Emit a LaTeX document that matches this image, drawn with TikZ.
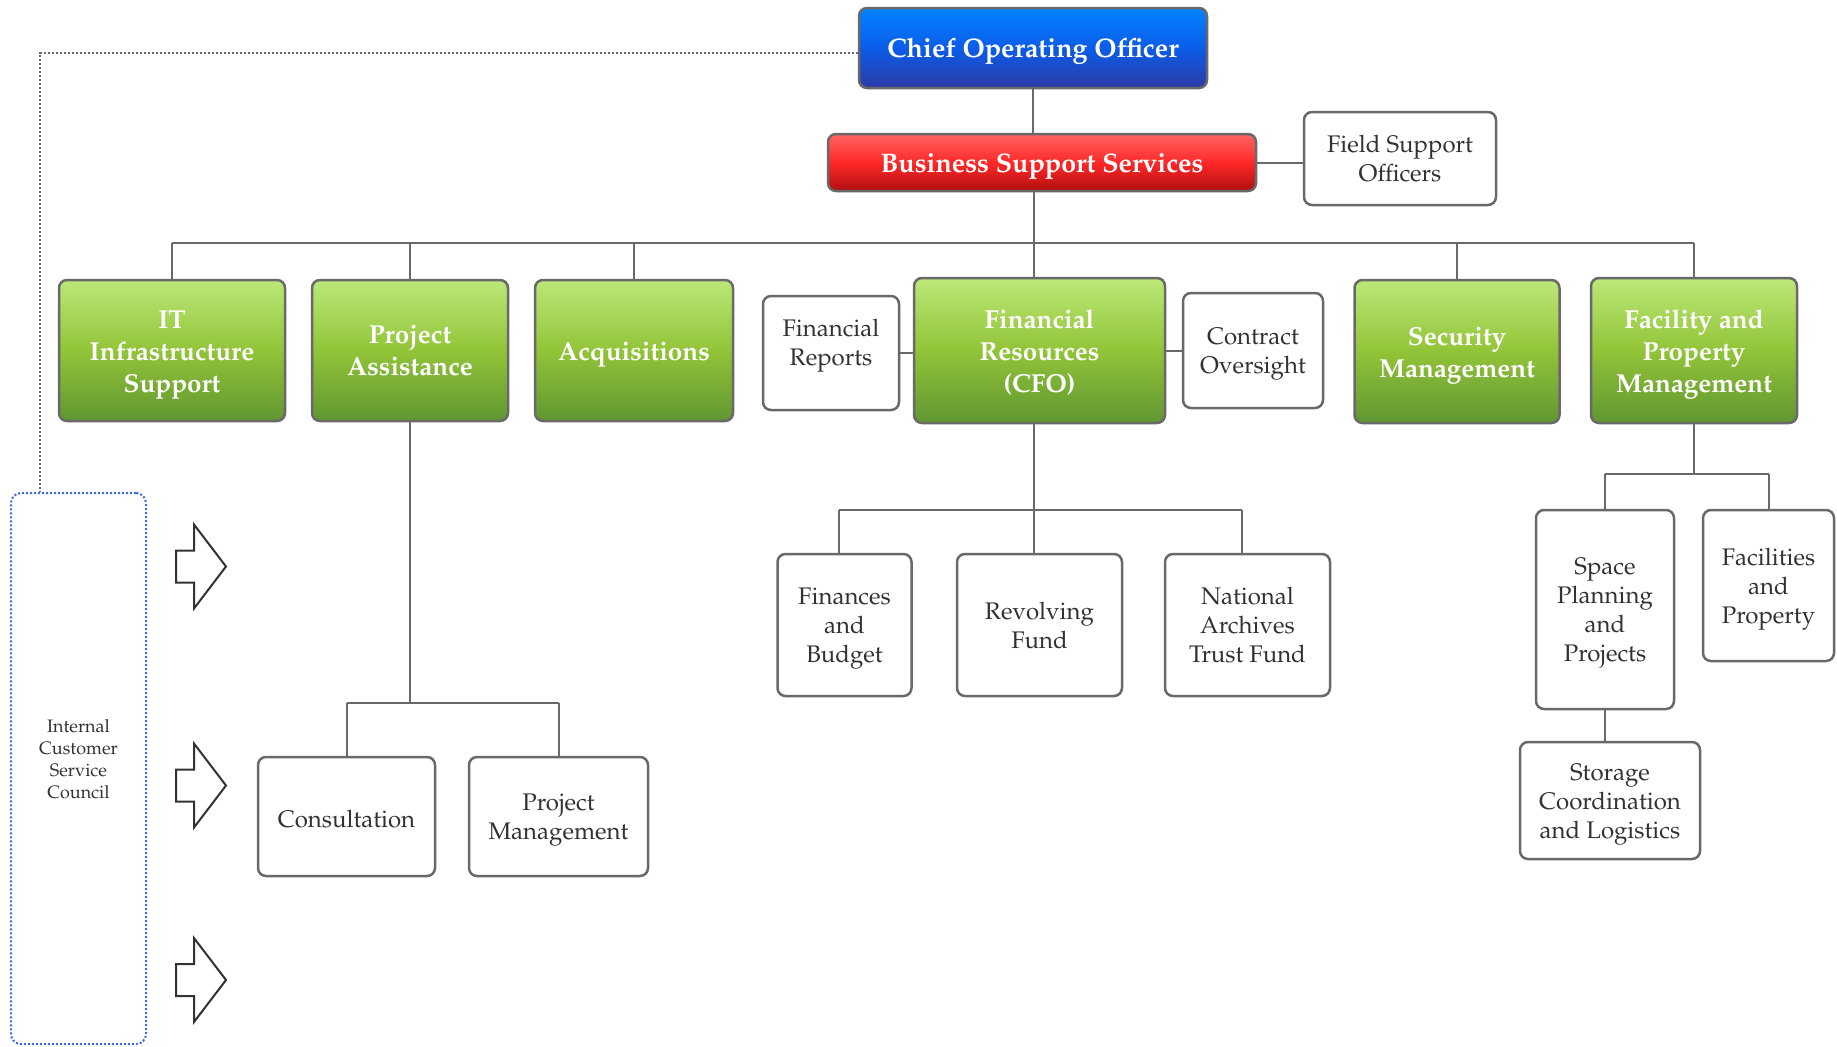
\documentclass[tikz,border=0pt]{standalone}
\usepackage[T1]{fontenc}
\usepackage{mathpazo}
\usepackage{tikz}
\definecolor{greentop}{RGB}{188,232,120}
\definecolor{greenmid}{RGB}{146,196,56}
\definecolor{greenbot}{RGB}{96,150,50}
\definecolor{bluetop}{RGB}{0,132,255}
\definecolor{bluemid}{RGB}{12,92,232}
\definecolor{bluebot}{RGB}{44,58,165}
\definecolor{redtop}{RGB}{255,100,100}
\definecolor{redmid}{RGB}{255,40,40}
\definecolor{redbot}{RGB}{175,15,15}
\definecolor{boxgray}{RGB}{105,105,105}
\definecolor{textgray}{RGB}{50,50,50}
\definecolor{councilblue}{RGB}{55,105,240}
\newcommand{\boxtopstrut}{\rule{0pt}{1em}}
\tikzstyle{basebox} = [draw=boxgray, line width=1.25pt, rectangle,
    rounded corners=4pt, align=center, inner sep=2pt]
\tikzstyle{greenbox} = [basebox, top color=greentop, bottom color=greenbot,
    middle color=greenmid, text=white, font=\fontsize{13}{16}\selectfont\bfseries]
\tikzstyle{cooBox} = [basebox, top color=bluetop, bottom color=bluebot,
    middle color=bluemid, text=white, font=\fontsize{13.4}{17}\selectfont\bfseries]
\tikzstyle{bssBox} = [basebox, top color=redtop, bottom color=redbot,
    middle color=redmid, text=white, font=\fontsize{13.4}{17}\selectfont\bfseries]
\tikzstyle{plainbox} = [basebox, fill=white, text=textgray,
    font=\fontsize{12}{14.5}\selectfont]
\tikzstyle{orgline} = [draw=boxgray, line width=1pt]
\tikzstyle{councilbox} = [draw=councilblue, line width=1pt, dash pattern=on 1pt off 1pt,
    rectangle, rounded corners=5pt, align=center, text=textgray,
    font=\fontsize{9}{11}\selectfont, execute at end node={\rule[-9.4pt]{0pt}{0pt}}]
\tikzstyle{blockarrow} = [draw=textgray, line width=1pt, fill=white, line join=miter]

\begin{document}
\begin{tikzpicture}[x=0.5pt, y=-0.5pt]
                \useasboundingbox (0,0) rectangle (1837,1046);
                \node[cooBox, minimum width=174pt, minimum height=40pt] (coo) at (1033,48) {\boxtopstrut Chief Operating Officer};
                \node[bssBox, minimum width=214pt, minimum height=28.5pt] (bss) at (1042,162.5) {\boxtopstrut Business Support Services};
                \node[plainbox, minimum width=96pt, minimum height=46.5pt] (fso) at (1400,158.5) {Field Support\\Officers};

                \node[greenbox, minimum width=113pt, minimum height=70.5pt] (it) at (172,350.5) {\boxtopstrut IT\\Infrastructure\\Support};
                \node[greenbox, minimum width=98pt, minimum height=70.5pt] (pa) at (410,350.5) {Project\\Assistance};
                \node[greenbox, minimum width=99pt, minimum height=70.5pt] (acq) at (634,350.5) {\boxtopstrut Acquisitions};
                \node[plainbox, minimum width=68pt, minimum height=57pt,
                    execute at end node={\rule[-0.85em]{0pt}{0pt}}] (fr) at (831,353) {Financial\\Reports};
                \node[greenbox, minimum width=125.5pt, minimum height=72.5pt] (cfo) at (1039.5,350.5) {\rule{0pt}{0.9em}Financial\\Resources\\(CFO)};
                \node[plainbox, minimum width=70pt, minimum height=57.5pt] (co) at (1253,350.5) {\boxtopstrut Contract\\Oversight};
                \node[greenbox, minimum width=102.5pt, minimum height=71.5pt] (sm) at (1457,351.5) {\boxtopstrut Security\\Management};
                \node[greenbox, minimum width=103pt, minimum height=72.5pt] (fpm) at (1694,350.5) {\boxtopstrut Facility and\\Property\\Management};

                \node[plainbox, minimum width=67pt, minimum height=71pt] (fb) at (844.5,625) {\boxtopstrut Finances\\and\\Budget};
                \node[plainbox, minimum width=82.5pt, minimum height=71pt] (rf) at (1039.5,625) {Revolving\\Fund};
                \node[plainbox, minimum width=82.5pt, minimum height=71pt] (na) at (1247.5,625) {National\\Archives\\Trust Fund};

                \node[plainbox, minimum width=88.5pt, minimum height=59.5pt] (cons) at (346.5,816.5) {\rule{0pt}{0.9em}Consultation};
                \node[plainbox, minimum width=89.5pt, minimum height=59.5pt] (pm) at (558.5,816.5) {\boxtopstrut Project\\Management};

                \node[plainbox, minimum width=69pt, minimum height=99.5pt] (spp) at (1605,609.5) {\boxtopstrut Space\\Planning\\and\\Projects};
                \node[plainbox, minimum width=65.5pt, minimum height=75.5pt] (fap) at (1768.5,585.5) {\boxtopstrut Facilities\\and\\Property};
                \node[plainbox, minimum width=90pt, minimum height=58.5pt] (scl) at (1610,800.5) {\boxtopstrut Storage\\Coordination\\and Logistics};

                \node[councilbox, minimum width=67.5pt, minimum height=275.5pt] (icsc) at (78.5,768.5) {Internal\\Customer\\Service\\Council};

                \coordinate (bus) at (1034,243);
                \coordinate (cfobus) at (1034,510);
                \coordinate (pabus) at (410,703);
                \coordinate (fpmbus) at (1692,474);
                \coordinate (cbend) at (40,53);

                \draw[orgline] (coo.south) -- (coo.south |- bss.north);
                \draw[orgline] (bss.east) -- (bss.east -| fso.west);
                \draw[orgline] (bus |- bss.south) -- (bus);
                \draw[orgline] (it.north |- bus) -- (fpm.north |- bus);
                \foreach \n in {it,pa,acq,sm,fpm}
                    \draw[orgline] (\n.north |- bus) -- (\n.north);
                \draw[orgline] (bus) -- (bus |- cfo.north);
                \draw[orgline] (fr.east) -- (fr.east -| cfo.west);
                \draw[orgline] (co.west) -- (co.west -| cfo.east);

                \draw[orgline] (cfobus |- cfo.south) -- (cfobus);
                \draw[orgline] ([xshift=-3pt]fb.north |- cfobus) -- ([xshift=-2.75pt]na.north |- cfobus);
                \foreach \n in {fb,rf,na}
                    \draw[orgline] ([xshift=-2.75pt]\n.north |- cfobus) -- ([xshift=-2.75pt]\n.north);

                \draw[orgline] (pa.south) -- (pa.south |- pabus);
                \draw[orgline] (cons.north |- pabus) -- (pm.north |- pabus);
                \foreach \n in {cons,pm}
                    \draw[orgline] (\n.north |- pabus) -- (\n.north);

                \draw[orgline] (fpm.south) -- (fpm.south |- fpmbus);
                \draw[orgline] (spp.north |- fpmbus) -- (fap.north |- fpmbus);
                \foreach \n in {spp,fap}
                    \draw[orgline] (\n.north |- fpmbus) -- (\n.north);
                \draw[orgline] (spp.south) -- (spp.south |- scl.north);

                \draw[draw=boxgray, line width=1pt, dash pattern=on 1pt off 1pt] (coo.west |- cbend) -- (cbend) -- (cbend |- icsc.north);

                \foreach \y in {566.5,785.5,980}
                    \draw[blockarrow] (176,\y-16) -- (194,\y-16) -- (194,\y-42) -- (226,\y)
                        -- (194,\y+42) -- (194,\y+16) -- (176,\y+16) -- cycle;
\end{tikzpicture}
\end{document}
